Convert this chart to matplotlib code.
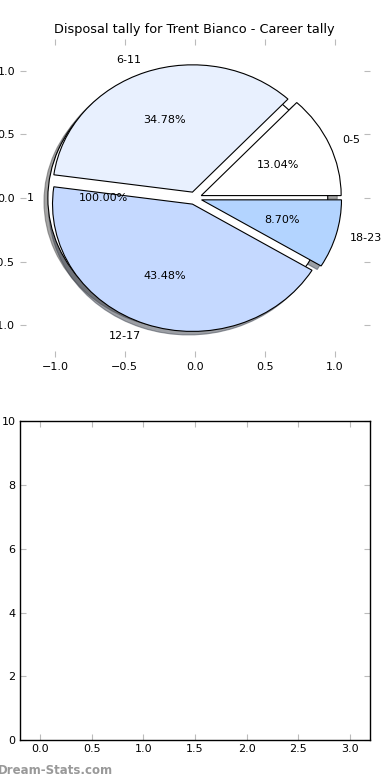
import matplotlib
matplotlib.use("Agg")
import matplotlib.pyplot as plt

# disposal bands and career tally counts
bands = ["0-5", "6-11", "12-17", "18-23"]
counts = [3, 8, 10, 2]
colors = ["#ffffff", "#e8f0fe", "#c5d9ff", "#b3d4ff"]
explode = [0.05, 0.05, 0.05, 0.05]

# the single "total" wedge drawn underneath
total_labels = ["1"]
total_values = [1]

x_ticks = [-1.0, -0.5, 0.0, 0.5, 1.0]
y_ticks = [-1.0, -0.5, 0.0, 0.5, 1.0]

plt.rcParams["font.family"] = "DejaVu Sans"
plt.rcParams["font.size"] = 8

fig = plt.figure(figsize=(3.9, 7.8), dpi=100)
fig.patch.set_facecolor("white")

ax1 = fig.add_axes([0.051, 0.542, 0.897, 0.408])
wp = dict(edgecolor="black", linewidth=0.8)
ax1.pie(total_values, labels=total_labels, colors=colors, explode=[0.05],
        autopct="%1.2f%%", shadow=True, wedgeprops=wp, frame=False)
ax1.pie(counts, labels=bands, colors=colors, explode=explode,
        autopct="%1.2f%%", shadow=True, wedgeprops=wp, frame=False)
ax1.set_xlim(-1.25, 1.25)
ax1.set_ylim(-1.25, 1.25)
ax1.set_aspect("auto")
ax1.set_xticks(x_ticks)
ax1.set_yticks(y_ticks)
ax1.tick_params(direction="in", length=4, color="#bbbbbb", top=True,
                right=True, labelsize=8, pad=3.5)
ax1.set_title("Disposal tally for Trent Bianco - Career tally", fontsize=9.3,
              pad=4)

ax2 = fig.add_axes([0.051, 0.051, 0.898, 0.409])
ax2.set_xlim(-0.2, 3.2)
ax2.set_ylim(0, 10)
ax2.set_xticks([0.0, 0.5, 1.0, 1.5, 2.0, 2.5, 3.0])
ax2.set_yticks([0, 2, 4, 6, 8, 10])
ax2.tick_params(direction="in", length=4, color="#bbbbbb", top=True,
                right=True, labelsize=8, pad=3)
for s in ax2.spines.values():
    s.set_linewidth(1.0)

fig.text(-0.005, 0.004, "Dream-Stats.com", color="#999999", fontsize=8.5,
         fontweight="bold", ha="left", va="bottom")

fig.savefig("out.png", dpi=100, facecolor="white")
